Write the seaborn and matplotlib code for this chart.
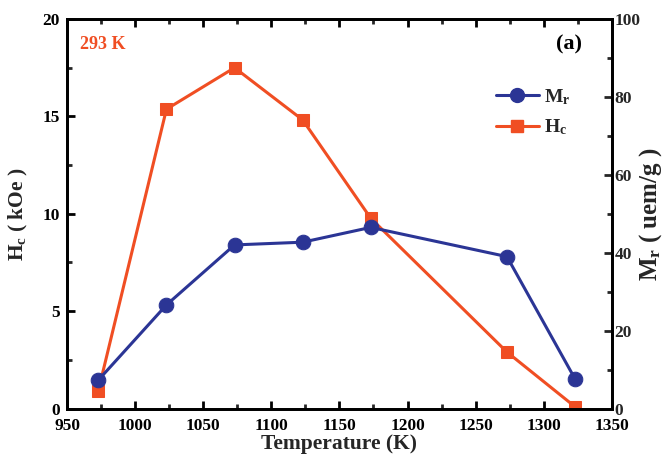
import matplotlib
matplotlib.use("Agg")
import matplotlib.pyplot as plt
import seaborn as sns
import pandas as pd
from matplotlib.ticker import MultipleLocator
from matplotlib.lines import Line2D

temperature = [973, 1023, 1073, 1123, 1173, 1273, 1323]
hc_koe = [0.92, 15.37, 17.5, 14.82, 9.77, 2.9, 0.09]
mr_uemg = [7.3, 26.6, 42.0, 42.7, 46.5, 39.0, 7.6]

sns.set_theme(style="ticks")
plt.rcParams['font.family'] = ['Liberation Serif', 'DejaVu Serif']
plt.rcParams['font.weight'] = 'bold'
plt.rcParams['mathtext.fontset'] = 'custom'
plt.rcParams['mathtext.rm'] = 'Liberation Serif:bold'
plt.rcParams['mathtext.it'] = 'Liberation Serif:bold'
plt.rcParams['mathtext.bf'] = 'Liberation Serif:bold'

ORANGE = "#F04E23"
BLUE = "#2B3595"

df = pd.DataFrame({"T": temperature, "Hc": hc_koe, "Mr": mr_uemg})

fig = plt.figure(figsize=(6.65, 4.57), dpi=100)
ax = fig.add_axes([0.1008, 0.1061, 0.8192, 0.8523])
ax2 = ax.twinx()

sns.lineplot(data=df, x="T", y="Hc", ax=ax, color=ORANGE, marker="s",
             markersize=9, markeredgecolor=ORANGE, linewidth=2.2)
sns.lineplot(data=df, x="T", y="Mr", ax=ax2, color=BLUE, marker="o",
             markersize=10.5, markeredgecolor=BLUE, linewidth=2.2)

ax.set_xlim(950, 1350)
ax.set_ylim(0, 20)
ax2.set_ylim(0, 100)
ax.xaxis.set_major_locator(MultipleLocator(50))
ax.xaxis.set_minor_locator(MultipleLocator(25))
ax.yaxis.set_major_locator(MultipleLocator(5))
ax.yaxis.set_minor_locator(MultipleLocator(2.5))
ax2.yaxis.set_major_locator(MultipleLocator(20))
ax2.yaxis.set_minor_locator(MultipleLocator(10))

for a in (ax, ax2):
    for s in a.spines.values():
        s.set_linewidth(2)
        s.set_color("black")
ax.tick_params(axis='x', which='major', direction='in', length=6, width=2,
               labelsize=12.5, top=True, pad=7, colors='black')
ax.tick_params(axis='y', which='major', direction='in', length=6, width=2,
               labelsize=12.5, pad=5, colors='black')
ax.tick_params(axis='both', which='minor', direction='in', length=3.5, width=2,
               top=True)
ax2.tick_params(axis='y', which='major', direction='in', length=6, width=2,
                labelsize=12.5, pad=2)
ax2.tick_params(axis='y', which='minor', direction='in', length=3.5, width=2)
for lab in ax.get_xticklabels() + ax.get_yticklabels() + ax2.get_yticklabels():
    lab.set_fontweight('bold')

ax.set_xlabel("Temperature (K)", fontsize=15.5, fontweight='bold', labelpad=0)
ax.set_ylabel(r"$\mathregular{H_c}$ ( kOe )", fontsize=15.5, fontweight='bold', labelpad=9)
ax2.set_ylabel(r"$\mathregular{M_r}$ ( uem/g )", fontsize=18, fontweight='bold',
               rotation=90)
ax2.yaxis.set_label_coords(1.047, 0.5)

ax.text(0.024, 0.935, "293 K", transform=ax.transAxes, color=ORANGE,
        fontsize=13, fontweight='bold', va='center', ha='left')
ax.text(0.945, 0.935, "(a)", transform=ax.transAxes, color='black',
        fontsize=16, fontweight='bold', va='center', ha='right')

handles = [
    Line2D([], [], color=BLUE, marker='o', markersize=10, linewidth=2.2),
    Line2D([], [], color=ORANGE, marker='s', markersize=9, linewidth=2.2),
]
leg = ax2.legend(handles, [r"$\mathregular{M_r}$", r"$\mathregular{H_c}$"],
                 loc='upper left', bbox_to_anchor=(0.755, 0.87), frameon=False,
                 fontsize=14, handlelength=2.2, handletextpad=0.3,
                 labelspacing=0.55)

fig.savefig("out.png", dpi=100)
